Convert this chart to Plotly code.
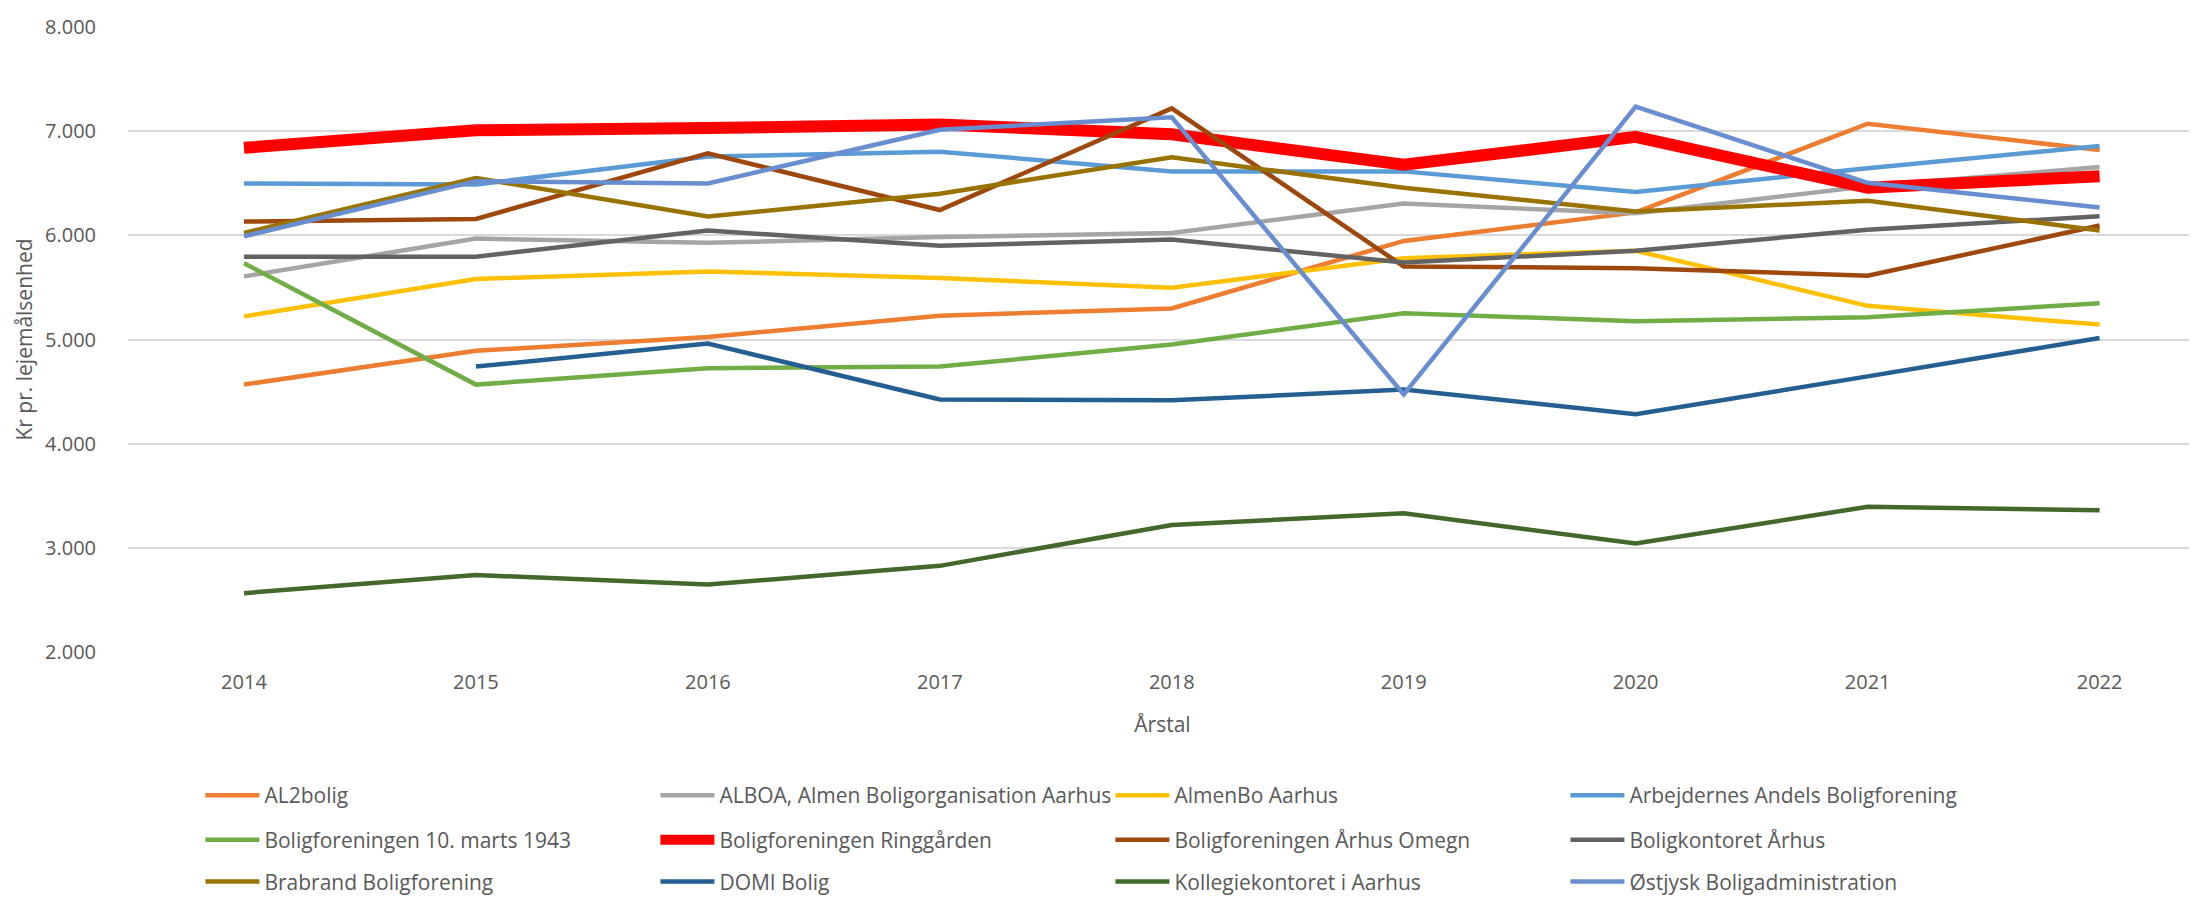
import plotly.graph_objects as go

years = [2014, 2015, 2016, 2017, 2018, 2019, 2020, 2021, 2022]

names = [
    "AL2bolig",
    "ALBOA, Almen Boligorganisation Aarhus",
    "AlmenBo Aarhus",
    "Arbejdernes Andels Boligforening",
    "Boligforeningen 10. marts 1943",
    "Boligforeningen Ringgården",
    "Boligforeningen Århus Omegn",
    "Boligkontoret Århus",
    "Brabrand Boligforening",
    "DOMI Bolig",
    "Kollegiekontoret i Aarhus",
    "Østjysk Boligadministration",
]

al2bolig = [4567, 4891, 5024, 5228, 5298, 5946, 6220, 7071, 6819]
alboa = [5606, 5969, 5928, 5984, 6022, 6305, 6211, 6470, 6655]
almenbo = [5222, 5581, 5654, 5591, 5496, 5780, 5852, 5323, 5143]
arbejdernes = [6498, 6488, 6756, 6803, 6614, 6614, 6416, 6645, 6857]
marts1943 = [5732, 4567, 4724, 4740, 4951, 5253, 5175, 5213, 5348]
ringgaarden = [6840, 7008, 7030, 7065, 6970, 6677, 6945, 6457, 6567]
aarhus_omegn = [6132, 6157, 6787, 6243, 7219, 5701, 5685, 5613, 6094]
boligkontoret = [5795, 5795, 6047, 5899, 5959, 5739, 5852, 6054, 6183]
brabrand = [6022, 6551, 6180, 6400, 6750, 6457, 6230, 6331, 6047]
domi = [None, 4740, 4961, 4425, 4416, 4520, 4283, 4646, 5014]
kollegiekontoret = [2565, 2739, 2647, 2827, 3220, 3331, 3041, 3394, 3362]
oestjysk = [5991, 6520, 6498, 7014, 7134, 4472, 7235, 6504, 6268]

series = [al2bolig, alboa, almenbo, arbejdernes, marts1943, ringgaarden,
          aarhus_omegn, boligkontoret, brabrand, domi, kollegiekontoret, oestjysk]

colors = ["#ED7D31", "#A5A5A5", "#FFC000", "#5B9BD5", "#70AD47", "#FF0000",
          "#9E480E", "#636363", "#997300", "#255E91", "#43682B", "#698ED0"]

TEXT = "#595959"
FONT = "Open Sans"

# legend is laid out as 3 rows of 4 entries; one plotly legend per row
legend_ids = ["legend", "legend2", "legend3"]

fig = go.Figure()
for i, (name, vals, col) in enumerate(zip(names, series, colors)):
    width = 12 if name == "Boligforeningen Ringgården" else 4.5
    fig.add_trace(go.Scatter(
        x=years, y=vals, name=name, mode="lines",
        line=dict(color=col, width=width), connectgaps=False,
        legend=legend_ids[i // 4]))


def row_legend(y):
    return dict(
        orientation="h", x=0.035, xanchor="left", y=y, yanchor="top",
        entrywidth=386, entrywidthmode="pixels", itemwidth=54,
        font=dict(family=FONT, size=21, color=TEXT),
        traceorder="normal", bgcolor="rgba(0,0,0,0)",
    )


# page body adds a small margin, so the figure is a bit smaller than the window
fig.update_layout(
    width=2189, height=895,
    paper_bgcolor="white", plot_bgcolor="white",
    margin=dict(l=120, r=0, t=19, b=240),
    font=dict(family=FONT, size=20, color=TEXT),
    separators=",.",
    showlegend=True,
    legend=row_legend(-0.197),
    legend2=row_legend(-0.268),
    legend3=row_legend(-0.335),
)
fig.update_xaxes(
    range=[2013.5, 2022.42], tickvals=years, showgrid=False, zeroline=False,
    showline=False, ticks="", ticklabelstandoff=16,
    title=dict(text="Årstal", standoff=23, font=dict(size=21, color=TEXT)),
)
fig.update_yaxes(
    range=[2000, 8000], dtick=1000, tickformat=",", showgrid=True,
    gridcolor="#D9D9D9", gridwidth=1.5, zeroline=False, showline=False,
    ticks="", ticklabelstandoff=31,
    title=dict(text="Kr pr. lejemålsenhed", standoff=6, font=dict(size=21, color=TEXT)),
)

fig.write_html("out.html")
